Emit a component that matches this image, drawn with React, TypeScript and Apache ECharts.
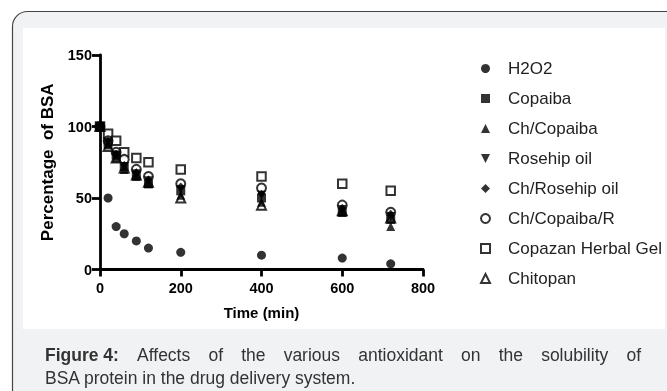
import React, { useEffect, useRef } from "react";
import * as echarts from "echarts";

const times = [0, 20, 40, 60, 90, 120, 200, 400, 600, 720];
const seriesNames = [
  "H2O2",
  "Copaiba",
  "Ch/Copaiba",
  "Rosehip oil",
  "Ch/Rosehip oil",
  "Ch/Copaiba/R",
  "Copazan Herbal Gel",
  "Chitopan",
];
const h2o2 = [100, 50, 30, 25, 20, 15, 12, 10, 8, 4];
const copaiba = [100, 88, 80, 72, 66, 60, 55, 50, 40, 35];
const chCopaiba = [100, 87, 78, 70, 65, 60, 52, 47, 40, 30];
const rosehip = [100, 89, 80, 72, 67, 62, 56, 52, 42, 37];
const chRosehip = [100, 90, 81, 73, 68, 63, 58, 53, 43, 39];
const chCopaibaR = [100, 90, 82, 77, 70, 65, 60, 57, 45, 40];
const copazan = [100, 95, 90, 82, 78, 75, 70, 65, 60, 55];
const chitopan = [100, 86, 78, 71, 66, 61, 50, 45, 41, 36];
const xTicks = [0, 200, 400, 600, 800];
const yTicks = [0, 50, 100, 150];

const captionBold = "Figure 4:";
const captionLine1 = "Affects of the various antioxidant on the solubility of";
const captionLine2 = "BSA protein in the drug delivery system.";

const FONT = "'Liberation Sans', Arial, sans-serif";
const CAP_SIZE = 17.5;

function measure(text: string, bold: boolean): number {
  const c = document.createElement("canvas").getContext("2d");
  if (!c) return text.length * CAP_SIZE * 0.5;
  c.font = `${bold ? "bold " : ""}${CAP_SIZE}px 'Liberation Sans', Arial, sans-serif`;
  return c.measureText(text).width;
}

export default function App() {
  const ref = useRef<HTMLDivElement>(null);
  useEffect(() => {
    if (!ref.current) return;
    const chart = echarts.init(ref.current, undefined, { renderer: "svg" });
    const values = [h2o2, copaiba, chCopaiba, rosehip, chRosehip, chCopaibaR, copazan, chitopan];
    const symbols = [
      "circle",
      "rect",
      "triangle",
      "path://M0,0L10,0L5,10Z",
      "diamond",
      "circle",
      "rect",
      "triangle",
    ];
    const sizes = [9, 9, 9, 9, 8, 9, 8.5, 9];
    const legendSizes = [9, 8, 8, 8, 8, 8, 8, 8];
    const open = [false, false, false, false, false, true, true, true];
    const order = [6, 5, 7, 0, 1, 2, 3, 4];
    const series: any[] = seriesNames.map((name, i) => ({
      name,
      type: "scatter",
      data: times.map((t, j) => [t, values[i][j]]),
      symbol: symbols[i],
      symbolSize: sizes[i],
      z: 2 + order.indexOf(i),
      itemStyle: open[i]
        ? { color: "#fff", borderColor: "#000", borderWidth: 2 }
        : { color: "#000", borderWidth: 0 },
    }));

    // justified first caption line
    const words = [captionBold, ...captionLine1.split(" ")];
    const widths = words.map((w, i) => measure(w, i === 0));
    const startX = 45;
    const endX = 641;
    const total = widths.reduce((a, b) => a + b, 0);
    const gap = (endX - startX - total) / (words.length - 1);
    const capGraphics: any[] = [];
    let x = startX;
    words.forEach((w, i) => {
      capGraphics.push({
        type: "text",
        x,
        y: 346,
        style: {
          text: w,
          fontFamily: FONT,
          fontSize: CAP_SIZE,
          fontWeight: i === 0 ? "bold" : "normal",
          fill: "#333",
          textVerticalAlign: "top",
        },
      });
      x += widths[i] + gap;
    });

    chart.setOption({
      animation: false,
      textStyle: { fontFamily: FONT },
      graphic: [
        {
          type: "rect",
          z: -10,
          shape: { x: 12.5, y: 11.5, width: 700, height: 420, r: 15 },
          style: { fill: "#f1f2f4", stroke: "#444", lineWidth: 1.2 },
        },
        {
          type: "rect",
          z: -9,
          shape: { x: 23, y: 28, width: 642, height: 301 },
          style: { fill: "#fff" },
        },
        ...capGraphics,
        {
          type: "text",
          x: 45,
          y: 369,
          style: {
            text: captionLine2,
            fontFamily: FONT,
            fontSize: CAP_SIZE,
            fill: "#333",
            textVerticalAlign: "top",
          },
        },
      ],
      legend: {
        orient: "vertical",
        left: 480,
        top: 60,
        padding: 0,
        itemWidth: 9,
        itemHeight: 9,
        itemGap: 13,
        data: seriesNames.map((n, i) => ({ name: n, itemHeight: legendSizes[i] })),
        textStyle: {
          fontSize: 17,
          color: "#222",
          fontFamily: FONT,
          lineHeight: 17,
          padding: [0, 0, 0, 13],
        },
      },
      grid: { left: 100, right: 244, top: 55, bottom: 121.5 },
      xAxis: {
        type: "value",
        min: xTicks[0],
        max: xTicks[xTicks.length - 1],
        interval: 200,
        name: "Time (min)",
        nameLocation: "middle",
        nameGap: 35,
        nameTextStyle: { fontWeight: "bold", fontSize: 15, color: "#000", fontFamily: FONT },
        axisLine: { lineStyle: { color: "#000", width: 2.8 } },
        axisTick: { length: 7, lineStyle: { color: "#000", width: 2.8 } },
        axisLabel: { fontWeight: "bold", fontSize: 14.5, color: "#000", margin: 11, fontFamily: FONT },
        splitLine: { show: false },
      },
      yAxis: {
        type: "value",
        min: yTicks[0],
        max: yTicks[yTicks.length - 1],
        interval: 50,
        name: "Percentage  of BSA",
        nameLocation: "middle",
        nameGap: 44,
        nameTextStyle: { fontWeight: "bold", fontSize: 17, color: "#000", fontFamily: FONT },
        axisLine: { lineStyle: { color: "#000", width: 2.8 } },
        axisTick: { length: 8, lineStyle: { color: "#000", width: 2.8 } },
        axisLabel: { fontWeight: "bold", fontSize: 14.5, color: "#000", margin: 8, fontFamily: FONT },
        splitLine: { show: false },
      },
      series,
    });
    return () => chart.dispose();
  }, []);
  return (
    <div
      ref={ref}
      style={{ position: "fixed", left: 0, top: 0, width: 667, height: 391 }}
    />
  );
}
